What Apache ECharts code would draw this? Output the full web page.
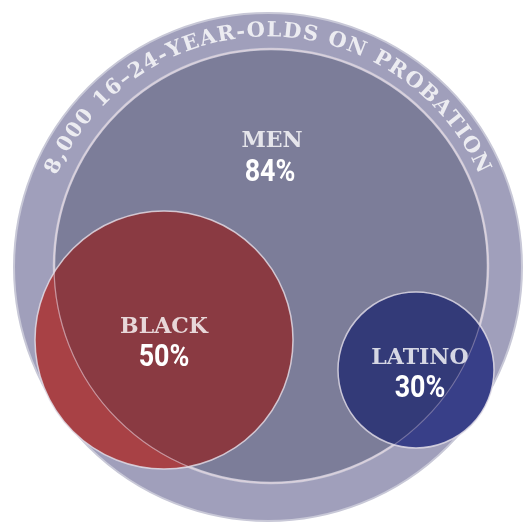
<!DOCTYPE html>
<html><head><meta charset="utf-8">
<script src="https://cdn.jsdelivr.net/npm/echarts@6/dist/echarts.min.js"></script>
<style>html,body{margin:0;padding:0;background:#fff}#c{width:528px;height:527px}</style>
</head><body><div id="c"></div>
<script>
// ---- data ----
const groups = ['MEN', 'BLACK', 'LATINO'];
const shares = [84, 50, 30];
const totalCount = 8000;
const ageRange = '16–24';
const titleSuffix = '-YEAR-OLDS ON PROBATION';

// ---- layout (chart units on a 528 x 527 frame) ----
const outerLayout = { cx: 268, cy: 267, r: 255, textR: 236, startDeg: -64.8, endDeg: 63.9 };
const circleLayout = [
  { cx: 271, cy: 266, r: 217, nameAt: [272, 141], valueAt: [270, 172.5] },
  { cx: 164, cy: 340, r: 129, nameAt: [164, 327.5], valueAt: [164, 357.5] },
  { cx: 416, cy: 370, r: 78, nameAt: [420, 358], valueAt: [420, 388.5] }
];
// ---- styles ----
const outerFill = '#A09FBB', outerEdge = '#C8C8D7';
const fills = ['#7C7D99', '#A84145', '#383F88'];
const insideFills = [null, '#8A3A42', '#333A78'];
const serifFamily = 'DejaVu Serif';
const nameFontSize = 22;
const valueFont = { fontFamily: 'Roboto', fontWeight: 'bold', fontSize: 32 };
const ringFontSize = 21;

const titleText = totalCount.toLocaleString('en-US') + ' ' + ageRange + titleSuffix;

function px(api, cx, cy, r) {
  const c = api.coord([cx, cy]);
  return { x: c[0], y: c[1], r: api.size([r, r])[0] };
}

function arcPoints(C, t1, t2, other, n) {
  let d = t2 - t1;
  while (d <= 0) d += Math.PI * 2;
  while (d > Math.PI * 2) d -= Math.PI * 2;
  const tm = t1 + d / 2;
  const mx = C.x + C.r * Math.cos(tm), my = C.y + C.r * Math.sin(tm);
  if (Math.hypot(mx - other.x, my - other.y) > other.r) d = d - Math.PI * 2;
  const pts = [];
  for (let i = 0; i <= n; i++) {
    const t = t1 + d * i / n;
    pts.push([C.x + C.r * Math.cos(t), C.y + C.r * Math.sin(t)]);
  }
  return pts;
}

function lens(A, B) {
  const dx = B.x - A.x, dy = B.y - A.y, d = Math.hypot(dx, dy);
  const a = (A.r * A.r - B.r * B.r + d * d) / (2 * d);
  const h = Math.sqrt(Math.max(0, A.r * A.r - a * a));
  const px_ = A.x + a * dx / d, py_ = A.y + a * dy / d;
  const i1 = [px_ - h * dy / d, py_ + h * dx / d];
  const i2 = [px_ + h * dy / d, py_ - h * dx / d];
  const tb1 = Math.atan2(i1[1] - B.y, i1[0] - B.x), tb2 = Math.atan2(i2[1] - B.y, i2[0] - B.x);
  const ta1 = Math.atan2(i1[1] - A.y, i1[0] - A.x), ta2 = Math.atan2(i2[1] - A.y, i2[0] - A.x);
  const pb = arcPoints(B, tb1, tb2, A, 80);
  const pa = arcPoints(A, ta2, ta1, B, 80);
  return pb.concat(pa);
}

// ring text: one label per character, placed along the arc (chart units)
const measureCtx = document.createElement('canvas').getContext('2d');
measureCtx.font = 'bold ' + ringFontSize + 'px "' + serifFamily + '"';
const ringChars = Array.from(titleText);
const ringWidths = ringChars.map(ch => measureCtx.measureText(ch).width);
const ringData = [];
(function () {
  const R = outerLayout.textR;
  const spanPx = (outerLayout.endDeg - outerLayout.startDeg) * Math.PI / 180 * R;
  let inner = ringWidths.reduce((a, b) => a + b, 0) - ringWidths[0] / 2 - ringWidths[ringWidths.length - 1] / 2;
  const gap = (spanPx - inner) / (ringChars.length - 1);
  let s = 0;
  for (let i = 0; i < ringChars.length; i++) {
    if (i > 0) s += ringWidths[i - 1] / 2 + gap + ringWidths[i] / 2;
    const th = outerLayout.startDeg * Math.PI / 180 + s / R;
    if (ringChars[i] === ' ') continue;
    ringData.push({
      name: ringChars[i],
      value: [outerLayout.cx + R * Math.sin(th), outerLayout.cy - R * Math.cos(th)],
      label: { rotate: -th * 180 / Math.PI }
    });
  }
})();

const chart = echarts.init(document.getElementById('c'), null, { renderer: 'canvas' });
chart.setOption({
  animation: false,
  grid: { left: 0, right: 0, top: 0, bottom: 0 },
  xAxis: { type: 'value', min: 0, max: 528, show: false },
  yAxis: { type: 'value', min: 0, max: 527, inverse: true, show: false },
  series: [
    {
      type: 'custom', z: 2, coordinateSystem: 'cartesian2d', silent: true,
      data: [[totalCount]],
      renderItem: function (params, api) {
        const O = px(api, outerLayout.cx, outerLayout.cy, outerLayout.r);
        return { type: 'circle', shape: { cx: O.x, cy: O.y, r: O.r - 1 },
          style: { fill: outerFill, stroke: outerEdge, lineWidth: 2 } };
      }
    },
    {
      type: 'custom', z: 3, coordinateSystem: 'cartesian2d', silent: true,
      data: shares.map((v, i) => [i, v]),
      renderItem: function (params, api) {
        const i = api.value(0);
        const L = circleLayout[i];
        const C = px(api, L.cx, L.cy, L.r);
        const M = px(api, circleLayout[0].cx, circleLayout[0].cy, circleLayout[0].r);
        const children = [];
        if (i === 0) {
          children.push({ type: 'circle', shape: { cx: C.x, cy: C.y, r: C.r },
            style: { fill: fills[0], stroke: '#C9C9D7', lineWidth: 2.5 } });
        } else {
          children.push({ type: 'circle', shape: { cx: C.x, cy: C.y, r: C.r },
            style: { fill: fills[i], stroke: 'none' } });
          children.push({ type: 'polygon', shape: { points: lens(M, C) },
            style: { fill: insideFills[i], stroke: 'none' } });
          children.push({ type: 'circle', shape: { cx: M.x, cy: M.y, r: M.r },
            style: { fill: 'none', stroke: 'rgba(235,215,225,0.35)', lineWidth: 1.2 } });
          children.push({ type: 'circle', shape: { cx: C.x, cy: C.y, r: C.r },
            style: { fill: 'none', stroke: 'rgba(225,220,230,0.85)', lineWidth: 1.5 } });
        }
        const v = api.coord(L.valueAt);
        children.push({ type: 'text', x: v[0], y: v[1], scaleX: 0.84,
          style: Object.assign({ text: api.value(1) + '%', fill: '#fff', align: 'center', verticalAlign: 'middle' }, valueFont) });
        return { type: 'group', children: children };
      }
    },
    {
      type: 'scatter', z: 5, silent: true, symbolSize: 1, itemStyle: { color: 'rgba(0,0,0,0)' },
      data: groups.map((g, i) => ({ name: g, value: circleLayout[i].nameAt })),
      label: { show: true, position: 'inside', formatter: '{b}', color: '#ffffff', textBorderWidth: 0,
        fontFamily: serifFamily, fontWeight: 'bold', fontSize: nameFontSize, align: 'center', verticalAlign: 'middle' },
      emphasis: { disabled: true }
    },
    {
      type: 'scatter', z: 5, silent: true, symbolSize: 1, itemStyle: { color: 'rgba(0,0,0,0)' },
      data: ringData,
      label: { show: true, position: 'inside', formatter: '{b}', color: '#ffffff', textBorderWidth: 0,
        fontFamily: serifFamily, fontWeight: 'bold', fontSize: ringFontSize, align: 'center', verticalAlign: 'middle' },
      emphasis: { disabled: true }
    }
  ]
});
</script>
</body></html>
